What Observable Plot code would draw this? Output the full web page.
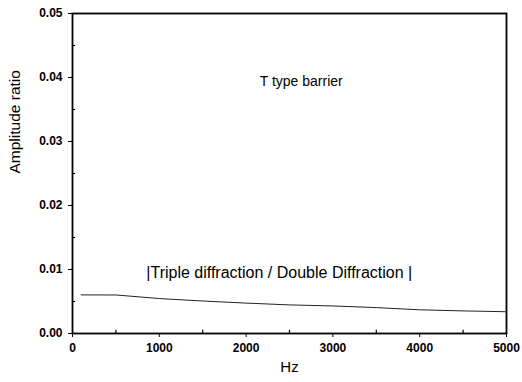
<!DOCTYPE html>
<html>
<head>
<meta charset="utf-8">
<script src="https://cdn.jsdelivr.net/npm/d3@7"></script>
<script src="https://cdn.jsdelivr.net/npm/@observablehq/plot@0.6"></script>
<style>
  html, body { margin: 0; padding: 0; background: #fff; }
  svg { font-family: "Liberation Sans", Arial, sans-serif; }
</style>
</head>
<body>
<div id="chart"></div>
<script>
const hz = [100, 500, 1000, 1500, 2000, 2500, 3000, 3500, 4000, 4500, 5000];
const ratio = [0.00603, 0.00602, 0.00546, 0.00508, 0.00475, 0.00447, 0.00430, 0.00405, 0.00370, 0.00353, 0.00340];
const xTicks = [0, 1000, 2000, 3000, 4000, 5000];
const yTicks = [0, 0.01, 0.02, 0.03, 0.04, 0.05];
const xMinor = [500, 1500, 2500, 3500, 4500];
const yMinor = [0.005, 0.015, 0.025, 0.035, 0.045];
const labels = [
  {x: 2635, y: 0.0394, text: "T type barrier", size: 14},
  {x: 2382, y: 0.0094, text: "|Triple diffraction / Double Diffraction |", size: 16}
];

const data = hz.map((h, i) => ({hz: h, ratio: ratio[i]}));

const chart = Plot.plot({
  width: 522,
  height: 382,
  marginLeft: 72,
  marginRight: 16,
  marginTop: 13,
  marginBottom: 49,
  style: {fontFamily: "'Liberation Sans', Arial, sans-serif", background: "#fff", color: "#000"},
  x: {domain: [0, 5000]},
  y: {domain: [0, 0.05]},
  marks: [
    Plot.axisX({ticks: xTicks, tickSize: 4, tickPadding: 6, fontSize: 12, fontWeight: "bold", label: null, tickFormat: d3.format("d")}),
    Plot.axisY({ticks: yTicks, tickSize: 4, tickPadding: 6, fontSize: 12, fontWeight: "bold", label: null, tickFormat: d3.format(".2f")}),
    Plot.ruleX(xMinor, {y1: 0, y2: 0.0005, stroke: "#000", strokeWidth: 1.2}),
    Plot.ruleY(yMinor, {x1: 0, x2: 35, stroke: "#000", strokeWidth: 1.2}),
    Plot.frame({stroke: "#000", strokeWidth: 1.8}),
    Plot.line(data, {x: "hz", y: "ratio", stroke: "#222", strokeWidth: 1}),
    Plot.text(labels.slice(0, 1), {x: "x", y: "y", text: "text", fontSize: 14, fill: "#000"}),
    Plot.text(labels.slice(1), {x: "x", y: "y", text: "text", fontSize: 16, fill: "#000"}),
    Plot.text(["Hz"], {frameAnchor: "bottom", dy: 38, fontSize: 15, fill: "#000"}),
    Plot.text(["Amplitude ratio"], {frameAnchor: "left", dx: -57, rotate: -90, fontSize: 15.5, fill: "#000"})
  ]
});
document.getElementById("chart").appendChild(chart);
</script>
</body>
</html>
